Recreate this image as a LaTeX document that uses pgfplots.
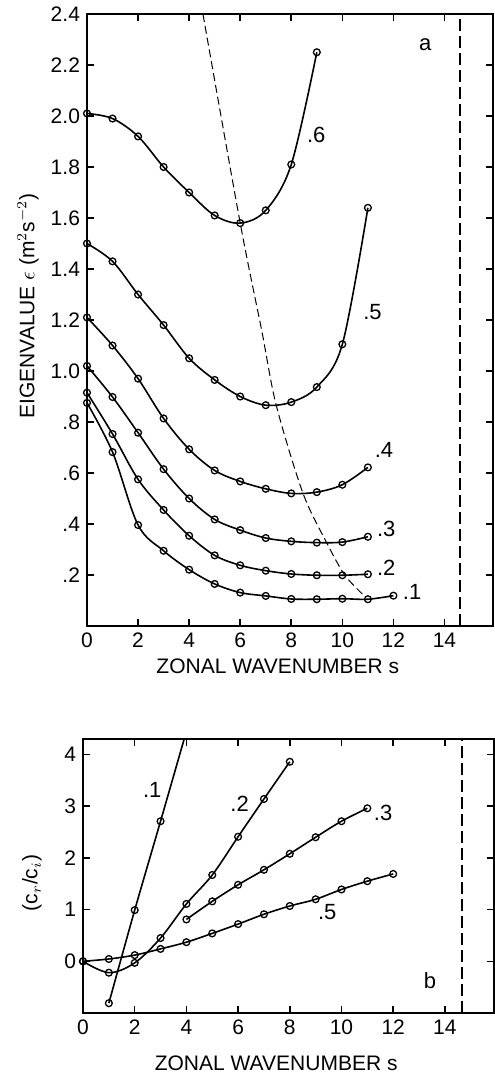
\documentclass[border=0pt]{standalone}
\usepackage{fontspec}
\setmainfont{Liberation Sans}
\usepackage{pgfplots}
\pgfplotsset{compat=1.18}
\tikzset{lbl/.style={font=\fontsize{11}{12}\selectfont, inner sep=0pt}}
\begin{document}
\begin{tikzpicture}
\useasboundingbox (0,0) rectangle (247pt,-537.5pt);
\pgfplotsset{
  myax/.style={
    scale only axis,
    axis line style={line width=0.9pt},
    tick style={line width=0.8pt, black},
    major tick length=3.5pt,
    tick align=inside,
    xtick pos=both, ytick pos=both,
    xticklabel pos=lower, yticklabel pos=left,
    xtick={0,2,4,6,8,10,12,14},
    xticklabels={0,2,4,6,8,10,12,14},
    xmin=0, xmax=15.9,
    tick label style={font=\fontsize{10.5}{12}\selectfont},
    label style={font=\fontsize{10.5}{12}\selectfont},
    clip=true,
  },
  crv/.style={black, line width=0.8pt, smooth, tension=0.55, mark=o, mark size=1.7pt,
    mark options={line width=0.65pt, fill=white, solid}},
}
% ---------------- panel a ----------------
\begin{axis}[myax,
  at={(43.5pt,-313pt)}, anchor=south west,
  width=203pt, height=306pt,
  ymin=0, ymax=2.4,
  ytick={0.2,0.4,0.6,0.8,1.0,1.2,1.4,1.6,1.8,2.0,2.2,2.4},
  yticklabels={.2,.4,.6,.8,1.0,1.2,1.4,1.6,1.8,2.0,2.2,2.4},
  xlabel={ZONAL WAVENUMBER s},
  xlabel style={at={(axis description cs:0.47,0)}, anchor=center, yshift=-20pt},
  ylabel={EIGENVALUE $\epsilon$ (m$^{2}$s$^{-2}$)},
  ylabel style={at={(axis description cs:-0.145,0.523)}, anchor=center},
]
% .6
\addplot[crv] coordinates {(0,2.01)(1,1.99)(2,1.92)(3,1.80)(4,1.70)(5,1.61)(6,1.58)(7,1.63)(8,1.81)(9,2.25)};
% .5
\addplot[crv] coordinates {(0,1.50)(1,1.43)(2,1.30)(3,1.18)(4,1.05)(5,0.965)(6,0.90)(7,0.866)(8,0.878)(9,0.937)(10,1.105)(11,1.64)};
% .4
\addplot[crv] coordinates {(0,1.21)(1,1.10)(2,0.97)(3,0.814)(4,0.693)(5,0.61)(6,0.567)(7,0.538)(8,0.52)(9,0.525)(10,0.554)(11,0.622)};
% .3
\addplot[crv] coordinates {(0,1.02)(1,0.898)(2,0.758)(3,0.615)(4,0.50)(5,0.418)(6,0.376)(7,0.345)(8,0.332)(9,0.327)(10,0.329)(11,0.35)};
% .2
\addplot[crv] coordinates {(0,0.915)(1,0.753)(2,0.575)(3,0.455)(4,0.354)(5,0.277)(6,0.238)(7,0.217)(8,0.204)(9,0.199)(10,0.199)(11,0.203)};
% .1
\addplot[crv] coordinates {(0,0.875)(1,0.682)(2,0.396)(3,0.295)(4,0.221)(5,0.165)(6,0.131)(7,0.118)(8,0.106)(9,0.105)(10,0.107)(11,0.105)(12,0.119)};
% dashed curve
\addplot[black, line width=0.5pt, smooth, dash pattern=on 4pt off 2pt] coordinates {(4.54,2.4)(6.0,1.58)(6.84,1.16)(7.41,0.866)(8.46,0.52)(9.4,0.324)(10.1,0.199)(10.86,0.118)};
% vertical dashed
\addplot[black, line width=0.9pt, dash pattern=on 6pt off 2.5pt] coordinates {(14.6,0)(14.6,2.4)};
\node[lbl] at (axis cs:8.98,1.925) {.6};
\node[lbl] at (axis cs:11.18,1.233) {.5};
\node[lbl] at (axis cs:11.63,0.69) {.4};
\node[lbl] at (axis cs:11.72,0.379) {.3};
\node[lbl] at (axis cs:11.72,0.229) {.2};
\node[lbl] at (axis cs:12.73,0.132) {.1};
\node[lbl] at (axis cs:13.25,2.28) {a};
\end{axis}
% ---------------- panel b ----------------
\begin{axis}[myax,
  at={(41.5pt,-506.5pt)}, anchor=south west,
  width=205.5pt, height=137pt,
  ymin=-1.0, ymax=4.3,
  ytick={0,1,2,3,4},
  yticklabels={0,1,2,3,4},
  xlabel={ZONAL WAVENUMBER s},
  xlabel style={at={(axis description cs:0.47,0)}, anchor=center, yshift=-25pt},
  ylabel={(c$_{r}$/c$_{i}$)},
  ylabel style={at={(axis description cs:-0.124,0.474)}, anchor=center},
]
% .1
\addplot[crv] coordinates {(1,-0.81)(2,0.99)(3,2.71)(4,4.45)};
% .2
\addplot[crv] coordinates {(0,0.0)(1,-0.22)(2,-0.03)(3,0.45)(4,1.11)(5,1.67)(6,2.41)(7,3.14)(8,3.86)};
% .3
\addplot[crv] coordinates {(4,0.81)(5,1.16)(6,1.48)(7,1.77)(8,2.08)(9,2.40)(10,2.71)(11,2.96)};
% .5
\addplot[crv] coordinates {(0,0.0)(1,0.045)(2,0.12)(3,0.24)(4,0.37)(5,0.54)(6,0.72)(7,0.91)(8,1.07)(9,1.20)(10,1.39)(11,1.55)(12,1.69)};
% vertical dashed
\addplot[black, line width=0.9pt, dash pattern=on 6pt off 2.5pt] coordinates {(14.65,-1.0)(14.65,4.3)};
\node[lbl] at (axis cs:2.68,3.32) {.1};
\node[lbl] at (axis cs:6.06,3.04) {.2};
\node[lbl] at (axis cs:11.61,2.87) {.3};
\node[lbl] at (axis cs:9.45,0.96) {.5};
\node[lbl] at (axis cs:13.42,-0.37) {b};
\end{axis}
\end{tikzpicture}
\end{document}
